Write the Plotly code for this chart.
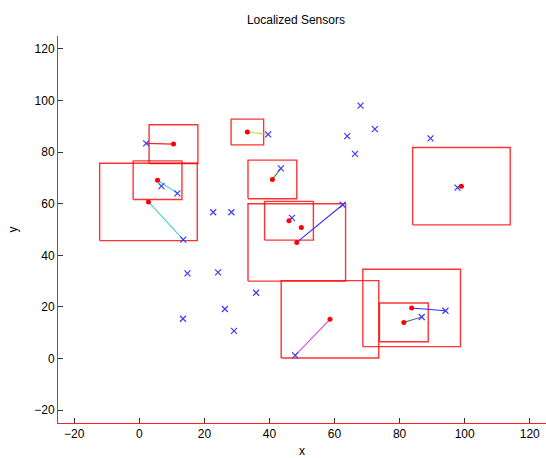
import plotly.graph_objects as go

# True sensor positions (blue x)
true_x = [2.1, 6.8, 11.7, 13.5, 22.7, 28.3, 39.6, 43.5, 46.9, 62.5, 68.0, 63.9, 66.3,
          72.4, 89.5, 97.8, 14.8, 24.2, 35.9, 26.3, 13.4, 29.1, 47.9, 94.1, 86.8]
true_y = [83.4, 66.8, 64.0, 46.1, 56.7, 56.7, 86.9, 73.7, 54.5, 59.6, 98.0, 86.2, 79.3,
          88.9, 85.3, 66.2, 33.0, 33.4, 25.5, 19.2, 15.4, 10.7, 1.2, 18.5, 16.1]

# Estimated positions (red dots)
est_x = [10.5, 5.6, 2.8, 33.2, 40.9, 46.0, 49.8, 48.4, 99.0, 58.6, 83.7, 81.3]
est_y = [83.1, 69.1, 60.7, 87.8, 69.4, 53.4, 50.8, 45.0, 66.8, 15.2, 19.6, 14.0]
# Half-size of uncertainty box for each estimate (0 = no box)
box_half = [7.5, 7.5, 15, 5, 7.5, 7.5, 0, 15, 15, 15, 15, 7.5]
# Index of the true sensor each estimate is linked to
link_true = [0, 2, 3, 6, 7, 8, None, 9, 15, 22, 23, 24]
link_colors = ["#ff2020", "#40d0d0", "#40d0d0", "#d0d040", "#309030", "#4040ff",
               None, "#3030ff", "#409060", "#d050d0", "#3030ff", "#707070"]

fig = go.Figure()

# Uncertainty boxes
for ex, ey, h in zip(est_x, est_y, box_half):
    if h <= 0:
        continue
    fig.add_trace(go.Scatter(
        x=[ex - h, ex + h, ex + h, ex - h, ex - h],
        y=[ey - h, ey - h, ey + h, ey + h, ey - h],
        mode="lines", line=dict(color="rgba(255,0,0,0.8)", width=1.4),
        hoverinfo="skip", showlegend=False))

# Links estimate -> true
for i, (ex, ey) in enumerate(zip(est_x, est_y)):
    t = link_true[i]
    if t is None:
        continue
    fig.add_trace(go.Scatter(
        x=[ex, true_x[t]], y=[ey, true_y[t]], mode="lines",
        line=dict(color=link_colors[i], width=1.1),
        hoverinfo="skip", showlegend=False))

# True positions
fig.add_trace(go.Scatter(
    x=true_x, y=true_y, mode="markers",
    marker=dict(symbol="x-thin", size=6, line=dict(color="#3a3aff", width=1.2)),
    showlegend=False))

# Estimated positions
fig.add_trace(go.Scatter(
    x=est_x, y=est_y, mode="markers",
    marker=dict(symbol="circle", size=5, color="#ff0000"),
    showlegend=False))

tick_vals = [-20, 0, 20, 40, 60, 80, 100, 120]
axis_font = dict(family="Liberation Sans, Arial, sans-serif", size=12, color="#000000")

fig.update_layout(
    width=546, height=458,
    margin=dict(l=58, r=0, t=36, b=35),
    paper_bgcolor="white", plot_bgcolor="white",
    title=dict(text="Localized Sensors", x=0.542, xanchor="center", y=0.957, yanchor="middle",
               font=dict(family="Liberation Sans, Arial, sans-serif", size=12, color="#000")),
    font=axis_font,
)
fig.update_xaxes(range=[-25, 125], tickvals=tick_vals, ticks="inside", ticklen=5,
                 tickcolor="#333", showline=True, linecolor="#ff2020", linewidth=1,
                 showgrid=False, zeroline=False, mirror=False, automargin=False,
                 title=dict(text="x", standoff=6, font=axis_font), tickfont=axis_font)
fig.update_yaxes(range=[-25, 125], tickvals=tick_vals, ticks="inside", ticklen=5,
                 tickcolor="#333", showline=True, linecolor="#ff2020", linewidth=1,
                 showgrid=False, zeroline=False, mirror=False, automargin=False,
                 title=dict(text="y", standoff=14, font=axis_font), tickfont=axis_font)

fig.write_html("out.html", config={"displayModeBar": False},
               post_script="document.body.style.margin='0';document.body.style.overflow='hidden';")
